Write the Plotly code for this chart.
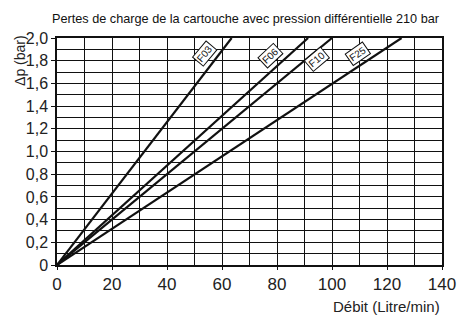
import plotly.graph_objects as go

# Cartouches et débit (L/min) atteint à 2,0 bar
cartouches = ["F03", "F06", "F10", "F25"]
debit_max = [63.5, 91.3, 100.0, 125.3]
dp_max = 2.0

# position des étiquettes (débit, Δp)
label_x = [53.8, 77.6, 94.4, 109.6]
label_y = [1.86, 1.85, 1.81, 1.86]
label_angle = [-50, -43, -40, -35]

x_ticks = [0, 20, 40, 60, 80, 100, 120, 140]
y_ticks = [0, 0.2, 0.4, 0.6, 0.8, 1.0, 1.2, 1.4, 1.6, 1.8, 2.0]
y_ticktext = ["0", "0,2", "0,4", "0,6", "0,8", "1,0", "1,2", "1,4", "1,6", "1,8", "2,0"]

fig = go.Figure()

for nom, q in zip(cartouches, debit_max):
    fig.add_trace(go.Scatter(
        x=[0, q], y=[0, dp_max], mode="lines", name=nom,
        line=dict(color="#111111", width=2.2), showlegend=False
    ))

for nom, lx, ly, a in zip(cartouches, label_x, label_y, label_angle):
    fig.add_annotation(
        x=lx, y=ly, text=nom, showarrow=False, textangle=a,
        font=dict(family="Liberation Sans, Arial", size=10, color="#111111"),
        bgcolor="white", bordercolor="#111111", borderwidth=1, borderpad=1
    )

fig.update_xaxes(
    range=[0, 140], tickvals=x_ticks, ticks="outside", ticklen=3, tickcolor="#111111",
    showgrid=True, gridcolor="#111111", gridwidth=1.3,
    minor=dict(dtick=10, tick0=0, showgrid=True, gridcolor="#111111", gridwidth=1.3),
    showline=True, linecolor="#111111", linewidth=1.5, mirror=True, automargin=False,
    zeroline=False, tickfont=dict(size=17, color="#222222")
)
fig.update_yaxes(
    range=[0, 2.0], tickvals=y_ticks, ticktext=y_ticktext, ticks="outside", ticklen=4,
    tickcolor="#111111",
    showgrid=True, gridcolor="#111111", gridwidth=1.3,
    minor=dict(dtick=0.1, tick0=0, showgrid=True, gridcolor="#111111", gridwidth=1.3),
    showline=True, linecolor="#111111", linewidth=1.5, mirror=True, automargin=False,
    zeroline=False, tickfont=dict(size=16, color="#222222")
)

fig.add_annotation(
    text="Pertes de charge de la cartouche avec pression différentielle 210 bar",
    xref="paper", yref="paper", x=1.0, y=1.0, xanchor="right", yanchor="bottom", yshift=10,
    showarrow=False, font=dict(family="Liberation Sans, Arial", size=12.7, color="#111111")
)
fig.add_annotation(
    text="Débit (Litre/min)", xref="paper", yref="paper", x=1.0, y=0,
    xanchor="right", yanchor="top", yshift=-31, showarrow=False,
    font=dict(size=15, color="#222222")
)
fig.add_annotation(
    text="Δp (bar)", xref="paper", yref="paper", x=0, y=1.02,
    xanchor="center", yanchor="top", xshift=-37, textangle=-90, showarrow=False,
    font=dict(size=14, color="#222222")
)

fig.update_layout(
    width=462, height=320,
    margin=dict(l=57, r=20, t=38, b=55),
    plot_bgcolor="white", paper_bgcolor="white",
    font=dict(family="Liberation Sans, Arial", color="#222222")
)

# marge par défaut du navigateur -> 0
fig.write_html("out.html", config={"displayModeBar": False},
               post_script="document.body.style.margin='0';")
